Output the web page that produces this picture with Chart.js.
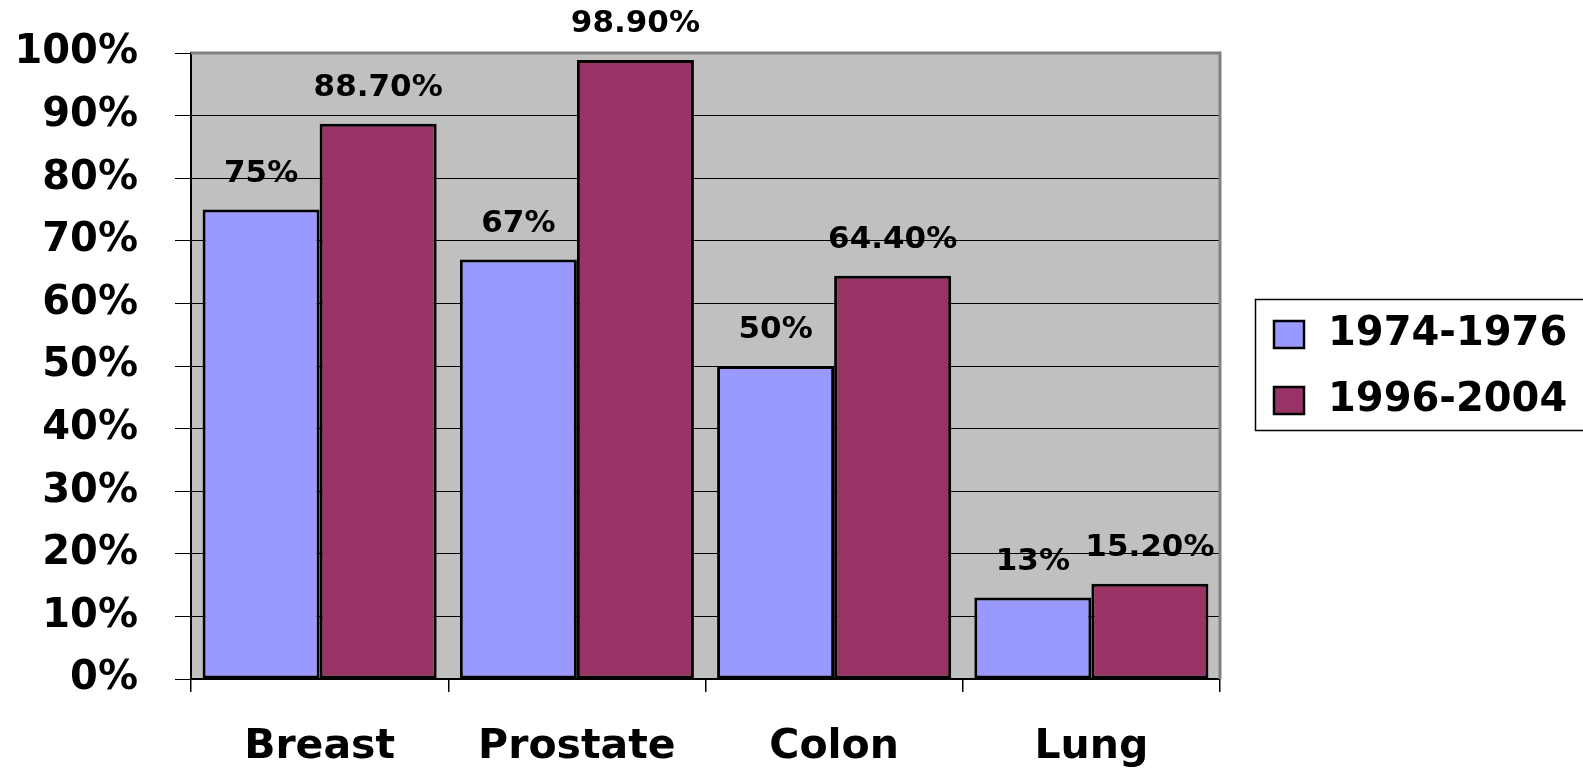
<!DOCTYPE html>
<html>
<head>
<meta charset="utf-8">
<script src="https://cdn.jsdelivr.net/npm/chart.js@4/dist/chart.umd.min.js"></script>
<style>
  html, body { margin: 0; padding: 0; background: #fff; }
  canvas { display: block; }
</style>
</head>
<body>
<canvas id="chart" width="1583" height="769"></canvas>
<script>
// chart values
var categories = ['Breast', 'Prostate', 'Colon', 'Lung'];
var series1Label = '1974-1976';
var series1Values = [75, 67, 50, 13];
var series2Label = '1996-2004';
var series2Values = [88.7, 98.9, 64.4, 15.2];
var yTicks = [0, 10, 20, 30, 40, 50, 60, 70, 80, 90, 100];

var FONT = '"DejaVu Sans", Arial, sans-serif';

// grey plot background + top/right shadow border
var plotBg = {
    id: 'plotBg',
    beforeDraw: function(chart) {
        var a = chart.chartArea, ctx = chart.ctx;
        ctx.save();
        ctx.fillStyle = '#c0c0c0';
        ctx.fillRect(a.left, a.top, a.right - a.left, a.bottom - a.top);
        ctx.restore();
    },
    afterDraw: function(chart) {
        var a = chart.chartArea, ctx = chart.ctx;
        ctx.save();
        ctx.strokeStyle = '#808080';
        ctx.lineWidth = 3;
        ctx.beginPath();
        ctx.moveTo(a.left, a.top);
        ctx.lineTo(a.right, a.top);
        ctx.lineTo(a.right, a.bottom);
        ctx.stroke();
        ctx.restore();
    }
};

// value labels above bars
var valueLabels = {
    id: 'valueLabels',
    afterDatasetsDraw: function(chart) {
        var ctx = chart.ctx;
        ctx.save();
        ctx.font = 'bold 31px ' + FONT;
        ctx.fillStyle = '#000';
        ctx.textAlign = 'center';
        ctx.textBaseline = 'alphabetic';
        chart.data.datasets.forEach(function(ds, i) {
            chart.getDatasetMeta(i).data.forEach(function(bar, j) {
                var v = ds.data[j];
                var txt = (i === 0 ? v.toFixed(0) : v.toFixed(2)) + '%';
                ctx.fillText(txt, bar.x, bar.y - 28);
            });
        });
        ctx.restore();
    }
};

// boxed legend on the right
var boxLegend = {
    id: 'boxLegend',
    afterDraw: function(chart) {
        var ctx = chart.ctx;
        ctx.save();
        ctx.strokeStyle = '#000';
        ctx.lineWidth = 1.5;
        ctx.strokeRect(1255.5, 299.5, 340, 131);
        ctx.font = 'bold 40px ' + FONT;
        ctx.textBaseline = 'middle';
        ctx.textAlign = 'left';
        chart.data.datasets.forEach(function(ds, i) {
            var cy = 334 + i * 66;
            ctx.fillStyle = ds.backgroundColor;
            ctx.fillRect(1274, cy - 13, 30, 27);
            ctx.lineWidth = 2.5;
            ctx.strokeStyle = '#000';
            ctx.strokeRect(1274, cy - 13, 30, 27);
            ctx.fillStyle = '#000';
            ctx.fillText(ds.label, 1328, cy + 1);
        });
        ctx.restore();
    }
};

new Chart(document.getElementById('chart'), {
    type: 'bar',
    data: {
        labels: categories,
        datasets: [{
            label: series1Label,
            data: series1Values,
            backgroundColor: '#9999ff',
            borderColor: '#000',
            borderWidth: 3,
            borderSkipped: false
        }, {
            label: series2Label,
            data: series2Values,
            backgroundColor: '#993366',
            borderColor: '#000',
            borderWidth: 3,
            borderSkipped: false
        }]
    },
    options: {
        responsive: false,
        devicePixelRatio: 1,
        animation: false,
        datasets: {
            bar: {
                categoryPercentage: 0.91,
                barPercentage: 1.0
            }
        },
        layout: {
            padding: { top: 53, right: 363, left: 0, bottom: 0 }
        },
        plugins: {
            legend: { display: false },
            tooltip: { enabled: false }
        },
        scales: {
            x: {
                offset: true,
                grid: {
                    display: true,
                    offset: true,
                    drawOnChartArea: false,
                    drawTicks: true,
                    tickLength: 13,
                    color: '#000',
                    lineWidth: 1.5
                },
                border: { display: true, color: '#000', width: 2 },
                ticks: {
                    color: '#000',
                    padding: 31,
                    font: { family: FONT, size: 41, weight: 'bold' }
                },
                afterFit: function(scale) { scale.height = 90; }
            },
            y: {
                min: 0,
                max: 100,
                afterBuildTicks: function(scale) {
                    scale.ticks = yTicks.map(function(v) { return { value: v }; });
                },
                grid: {
                    color: '#000',
                    lineWidth: 1,
                    drawTicks: true,
                    tickLength: 16
                },
                border: { display: true, color: '#000', width: 2 },
                ticks: {
                    color: '#000',
                    padding: 37,
                    font: { family: FONT, size: 40, weight: 'bold' },
                    callback: function(v) { return v + '%'; }
                },
                afterFit: function(scale) {
                    scale.width = 191;
                    scale.paddingTop = 0;
                    scale.paddingBottom = 0;
                }
            }
        }
    },
    plugins: [plotBg, valueLabels, boxLegend]
});
</script>
</body>
</html>
